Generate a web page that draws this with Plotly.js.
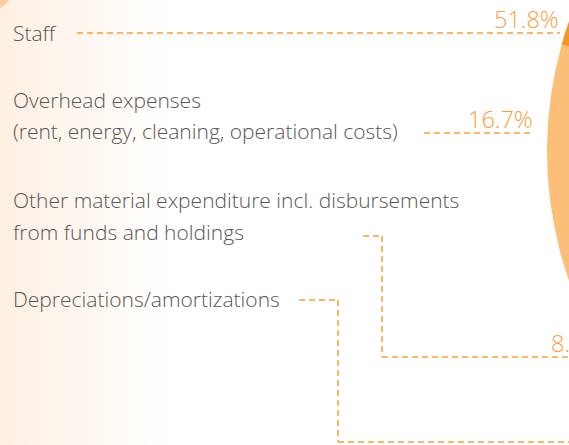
<!DOCTYPE html>
<html>
<head>
<meta charset="utf-8">
<script src="https://cdn.plot.ly/plotly-3.0.1.min.js"></script>
<style>
  html, body { margin: 0; padding: 0; width: 569px; height: 445px; overflow: hidden; }
  body { background: linear-gradient(to right, #fdefe2 0%, #fef5ec 10%, #ffffff 30%); position: relative; }
  #chart { position: absolute; left: 0; top: -250px; width: 1400px; height: 800px; }
</style>
</head>
<body>
<div id="chart"></div>
<script>
// ---- data ----
const categories = [
  'Staff',
  'Overhead expenses (rent, energy, cleaning, operational costs)',
  'Other material expenditure incl. disbursements from funds and holdings',
  'Depreciations/amortizations'
];
const categoryLines = [
  ['Staff'],
  ['Overhead expenses', '(rent, energy, cleaning, operational costs)'],
  ['Other material expenditure incl. disbursements', 'from funds and holdings'],
  ['Depreciations/amortizations']
];
const shares = [51.8, 16.7, 8.5, 23.0];
const sliceColors = ['#f7941d', '#fbbf78', '#fcd6a8', '#fde6c9'];

// ---- layout helpers (pixel -> paper of the oversized div) ----
const DIV_W = 1400, DIV_H = 800, OFF_Y = 250;
const px = x => x / DIV_W;
const py = y => 1 - (y + OFF_Y) / DIV_H;

const labelFont = {family: 'Open Sans, sans-serif', size: 21, color: '#575757', weight: 300};
const pctFont = {family: 'Open Sans, sans-serif', size: 23.5, color: '#f8a040', weight: 300};
const lineColor = '#f7a03a';

// label line y-centres (px) for each category
const labelY = [[33], [100, 131], [200, 232], [299]];
// percentage label positions (only those visible in the frame)
const pctPos = [
  {x: 561, y: 19, anchor: 'right'},
  {x: 535, y: 119, anchor: 'right'},
  {x: 549, y: 343, anchor: 'left'}
];
// leader paths (px)
const leaders = [
  [[77, 33], [560, 33]],
  [[424, 133], [534, 133]],
  [[363, 236], [382, 236], [382, 357], [640, 357]],
  [[299, 300], [338, 300], [338, 442], [640, 442]]
];

const annotations = [];
categoryLines.forEach((lines, i) => {
  lines.forEach((t, j) => {
    annotations.push({
      text: t, xref: 'paper', yref: 'paper',
      x: px(11), y: py(labelY[i][j]), xanchor: 'left', yanchor: 'middle',
      showarrow: false, font: labelFont
    });
  });
  if (pctPos[i]) {
    annotations.push({
      text: shares[i].toFixed(1) + '%', xref: 'paper', yref: 'paper',
      x: px(pctPos[i].x), y: py(pctPos[i].y), xanchor: pctPos[i].anchor, yanchor: 'middle',
      showarrow: false, font: pctFont
    });
  }
});

const shapes = [{
  type: 'circle', xref: 'paper', yref: 'paper',
  x0: px(-82), x1: px(22), y0: py(-86), y1: py(18),
  fillcolor: '#fbcd9c', line: {width: 0}, layer: 'below'
}];
leaders.forEach(pts => {
  for (let k = 0; k < pts.length - 1; k++) {
    shapes.push({
      type: 'line', xref: 'paper', yref: 'paper',
      x0: px(pts[k][0]), y0: py(pts[k][1]), x1: px(pts[k + 1][0]), y1: py(pts[k + 1][1]),
      line: {color: lineColor, width: 1.5, dash: '6px,4px'}
    });
  }
});

const trace = {
  type: 'pie',
  labels: categories,
  values: shares,
  sort: false,
  direction: 'counterclockwise',
  rotation: -74.3,
  textinfo: 'none',
  hoverinfo: 'skip',
  showlegend: false,
  marker: {colors: sliceColors, line: {width: 0}},
  domain: {x: [px(547), px(1333)], y: [py(544), py(-242)]}
};

Plotly.newPlot('chart', [trace], {
  width: DIV_W, height: DIV_H,
  margin: {l: 0, r: 0, t: 0, b: 0},
  paper_bgcolor: 'rgba(0,0,0,0)', plot_bgcolor: 'rgba(0,0,0,0)',
  showlegend: false,
  annotations: annotations,
  shapes: shapes
}, {staticPlot: true, displayModeBar: false});
</script>
</body>
</html>
